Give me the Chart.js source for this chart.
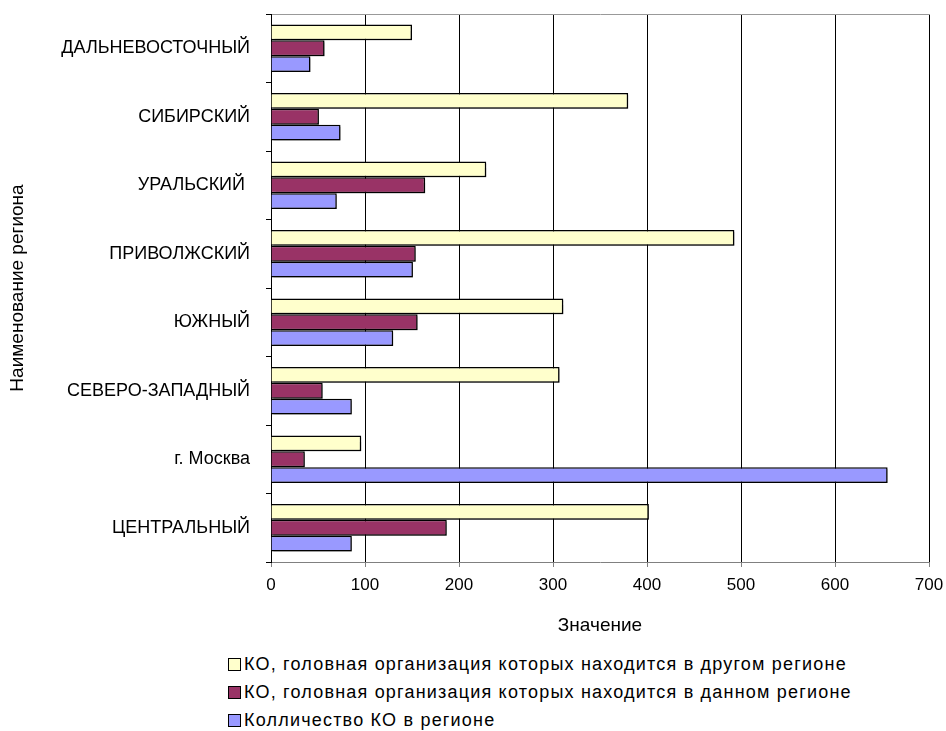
<!DOCTYPE html>
<html lang="ru">
<head>
  <meta charset="UTF-8" />
  <title>КО по федеральным округам</title>
  <script src="https://cdn.jsdelivr.net/npm/chart.js"></script>
  <style>
    body {
      margin: 0;
      background: #fff;
      font-family: "Liberation Sans", Arial, sans-serif;
    }
    #chart-container {
      position: relative;
      width: 946px;
      height: 645px;
    }
    #legend {
      position: absolute;
      left: 228px;
      top: 650px;
      font-size: 18px;
      letter-spacing: 1.2px;
      color: #000;
    }
    #legend div {
      height: 28px;
      line-height: 28px;
      white-space: nowrap;
    }
    #legend span.box {
      display: inline-block;
      width: 11px;
      height: 11px;
      border: 1px solid #000;
      margin-right: 3px;
      vertical-align: -1px;
    }
  </style>
</head>
<body>
  <div id="chart-container">
    <canvas id="regionChart"></canvas>
  </div>
  <div id="legend"></div>

  <script>
    // Регионы (сверху вниз)
    const regions = [
      "ДАЛЬНЕВОСТОЧНЫЙ",
      "СИБИРСКИЙ",
      "УРАЛЬСКИЙ ",
      "ПРИВОЛЖСКИЙ",
      "ЮЖНЫЙ",
      "СЕВЕРО-ЗАПАДНЫЙ",
      "г. Москва",
      "ЦЕНТРАЛЬНЫЙ"
    ];

    // КО, головная организация которых находится в другом регионе
    const otherRegion = [150, 380, 229, 493, 311, 307, 96, 402];
    // КО, головная организация которых находится в данном регионе
    const sameRegion = [57, 51, 164, 154, 156, 55, 36, 187];
    // Колличество КО в регионе
    const totalKO = [42, 74, 70, 151, 130, 86, 656, 86];

    const seriesNames = [
      "КО, головная организация которых находится в другом регионе",
      "КО, головная организация которых находится в данном регионе",
      "Колличество КО в регионе"
    ];
    const xTicks = [0, 100, 200, 300, 400, 500, 600, 700];

    // тень у столбиков как в Excel
    const barShadow = {
      id: "barShadow",
      beforeDatasetsDraw(chart) {
        const ctx = chart.ctx;
        ctx.save();
        ctx.shadowColor = "rgba(0,0,0,0.35)";
        ctx.shadowOffsetX = 2;
        ctx.shadowOffsetY = 2;
        ctx.shadowBlur = 1;
      },
      afterDatasetsDraw(chart) {
        chart.ctx.restore();
      }
    };

    const ctx = document.getElementById("regionChart").getContext("2d");
    const chart = new Chart(ctx, {
      type: "bar",
      data: {
        labels: regions,
        datasets: [
          {
            label: seriesNames[0],
            data: otherRegion,
            backgroundColor: "#FFFFCC",
            borderColor: "#000",
            borderWidth: 1.5
          },
          {
            label: seriesNames[1],
            data: sameRegion,
            backgroundColor: "#993366",
            borderColor: "#000",
            borderWidth: 1.5
          },
          {
            label: seriesNames[2],
            data: totalKO,
            backgroundColor: "#9999FF",
            borderColor: "#000",
            borderWidth: 1.5
          }
        ]
      },
      options: {
        indexAxis: "y",
        responsive: true,
        maintainAspectRatio: false,
        animation: false,
        layout: { padding: { top: 14, right: 17 } },
        datasets: {
          bar: { categoryPercentage: 0.69, barPercentage: 1.0 }
        },
        scales: {
          x: {
            min: 0,
            max: 700,
            afterBuildTicks: (s) => { s.ticks = xTicks.map(v => ({ value: v })); },
            afterFit: (s) => {
              s.height = 83;
              s.paddingLeft = 0;
              s.paddingRight = 0;
            },
            grid: { color: "#000", tickColor: "#808080", tickLength: 5 },
            border: { color: "#808080" },
            ticks: {
              color: "#000",
              padding: 8,
              font: { family: "Liberation Sans", size: 17 }
            },
            title: {
              display: true,
              text: "Значение",
              color: "#000",
              padding: { top: 0, bottom: 8 },
              font: { family: "Liberation Sans", size: 19 }
            }
          },
          xTop: {
            position: "top",
            axis: "x",
            min: 0,
            max: 700,
            afterFit: (s) => {
              s.height = 0;
              s.paddingLeft = 0;
              s.paddingRight = 0;
            },
            ticks: { display: false },
            grid: { display: false, drawTicks: false },
            border: { color: "#999" }
          },
          y: {
            afterFit: (s) => {
              s.width = 271;
              s.paddingTop = 0;
              s.paddingBottom = 0;
            },
            grid: { drawOnChartArea: false, color: "#000", tickLength: 5 },
            border: { color: "#000" },
            ticks: {
              color: "#000",
              padding: 16,
              font: { family: "Liberation Sans", size: 18 }
            },
            title: {
              display: true,
              text: "Наименование региона",
              color: "#000",
              padding: { top: 6, bottom: 0 },
              font: { family: "Liberation Sans", size: 19 }
            }
          }
        },
        plugins: {
          legend: { display: false },
          tooltip: { enabled: false }
        }
      },
      plugins: [barShadow]
    });

    // Легенда столбиком под графиком
    const legendBox = document.getElementById("legend");
    chart.data.datasets.forEach(ds => {
      const row = document.createElement("div");
      const box = document.createElement("span");
      box.className = "box";
      box.style.background = ds.backgroundColor;
      row.appendChild(box);
      row.appendChild(document.createTextNode(ds.label));
      legendBox.appendChild(row);
    });
  </script>
</body>
</html>
